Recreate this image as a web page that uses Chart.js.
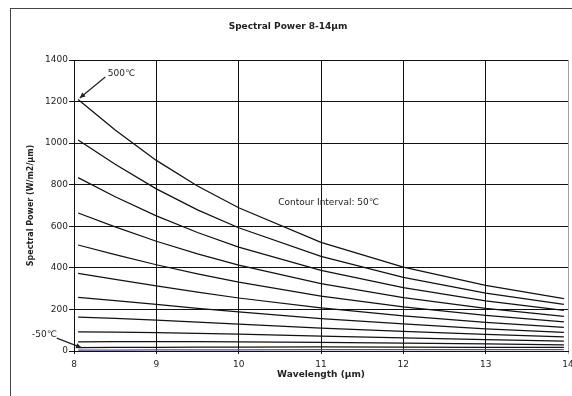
<!DOCTYPE html>
<html>
<head>
<meta charset="utf-8">
<script src="https://cdn.jsdelivr.net/npm/chart.js@4/dist/chart.umd.min.js"></script>
<style>
html,body{margin:0;padding:0;background:#fff;}
#wrap{width:572px;height:396px;position:relative;}
</style>
</head>
<body>
<div id="wrap"><canvas id="c" width="572" height="396"></canvas></div>
<script>
// Wavelength sample points (µm)
const wavelengths = [8.05, 8.5, 9, 9.5, 10, 11, 12, 13, 13.95];
// Spectral power (W/m2/µm) per temperature contour
const t500 = [1210, 1063, 917, 794, 689, 523, 404, 316, 252];
const t450 = [1015, 898, 780, 679, 593, 455, 354, 278, 224];
const t400 = [834, 742, 650, 570, 500, 388, 305, 241, 195];
const t350 = [664, 597, 528, 467, 413, 324, 257, 205, 167];
const t300 = [510, 464, 415, 371, 331, 264, 212, 171, 140];
const t250 = [374, 345, 313, 283, 255, 207, 169, 138, 114];
const t200 = [258, 242, 224, 205, 188, 156, 130, 107, 90];
const t150 = [163, 157, 148, 139, 129, 110, 94, 80, 68];
const t100 = [92, 91, 89, 85, 81, 72, 63, 55, 48];
const t50  = [44, 45, 45, 45, 44, 41, 38, 34, 30];
const t0   = [16, 17, 18, 19, 19, 20, 19, 18, 17];
const tm50 = [4, 4, 5, 5, 6, 7, 7, 7, 7];
const seriesLabels = ['500℃','450℃','400℃','350℃','300℃','250℃','200℃','150℃','100℃','50℃','0℃','-50℃'];
const seriesValues = [t500,t450,t400,t350,t300,t250,t200,t150,t100,t50,t0,tm50];
const xTicks = [8, 9, 10, 11, 12, 13, 14];
const yTicks = [0, 200, 400, 600, 800, 1000, 1200, 1400];

const FONT = "'DejaVu Sans', sans-serif";
const TXT = '#222';

const datasets = seriesValues.map((vals, i) => ({
  label: seriesLabels[i],
  data: vals.map((v, j) => ({x: wavelengths[j], y: v})),
  borderColor: i === seriesValues.length - 1 ? '#5050a8' : '#111',
  borderWidth: 1.25,
  pointRadius: 0,
  tension: 0,
  fill: false
}));

const decor = {
  id: 'decor',
  beforeDraw(chart) {
    const ctx = chart.ctx;
    ctx.save();
    ctx.fillStyle = '#fff';
    ctx.fillRect(0, 0, chart.width, chart.height);
    ctx.strokeStyle = '#444';
    ctx.lineWidth = 1;
    ctx.strokeRect(10.5, 8.5, 700, 700);
    ctx.restore();
  },
  afterDraw(chart) {
    const ctx = chart.ctx;
    const xs = chart.scales.x, ys = chart.scales.y;
    const P = (x, y) => [xs.getPixelForValue(x), ys.getPixelForValue(y)];
    ctx.save();
    ctx.fillStyle = TXT;
    ctx.strokeStyle = '#222';
    ctx.font = '9px ' + FONT;
    ctx.textBaseline = 'middle';
    let [lx, ly] = P(8.41, 1332);
    ctx.textAlign = 'left';
    ctx.fillText('500℃', lx, ly);
    arrow(ctx, P(8.38, 1318), P(8.07, 1217));
    [lx, ly] = P(7.64, 77);
    ctx.textAlign = 'center';
    ctx.fillText('-50℃', lx, ly);
    arrow(ctx, P(7.79, 62), P(8.09, 16));
    [lx, ly] = P(10.48, 712);
    ctx.textAlign = 'left';
    ctx.fillText('Contour Interval: 50℃', lx, ly);
    ctx.restore();
  }
};
function arrow(ctx, a, b) {
  const [x1, y1] = a, [x2, y2] = b;
  ctx.beginPath();
  ctx.lineWidth = 1.2;
  ctx.moveTo(x1, y1);
  ctx.lineTo(x2, y2);
  ctx.stroke();
  const ang = Math.atan2(y2 - y1, x2 - x1);
  const L = 6, W = 0.45;
  ctx.beginPath();
  ctx.moveTo(x2, y2);
  ctx.lineTo(x2 - L * Math.cos(ang - W), y2 - L * Math.sin(ang - W));
  ctx.lineTo(x2 - L * Math.cos(ang + W), y2 - L * Math.sin(ang + W));
  ctx.closePath();
  ctx.fillStyle = '#222';
  ctx.fill();
}

new Chart(document.getElementById('c'), {
  type: 'line',
  data: { datasets },
  plugins: [decor],
  options: {
    responsive: false,
    animation: false,
    devicePixelRatio: 1,
    layout: { padding: { left: 8, right: 4, top: 0, bottom: 0 } },
    plugins: {
      legend: { display: false },
      tooltip: { enabled: false },
      title: {
        display: true,
        text: 'Spectral Power 8-14µm',
        color: TXT,
        font: { family: FONT, size: 9, weight: 'bold' },
        padding: { top: 21.6, bottom: 27.6 }
      }
    },
    scales: {
      x: {
        type: 'linear',
        min: 8, max: 14,
        afterBuildTicks(s) { s.ticks = xTicks.map(v => ({value: v})); },
        afterFit(s) { s.height = 45; s.paddingLeft = 0; s.paddingRight = 0; },
        ticks: { color: TXT, font: { family: FONT, size: 9 }, padding: 5, maxRotation: 0,
                 callback: v => String(v) },
        grid: {
          color: ctx => ctx.tick && ctx.tick.value === 14 ? '#a0a0a0' : '#111',
          lineWidth: 1, tickLength: 3, drawTicks: true
        },
        border: { color: '#111', width: 1 },
        title: {
          display: true,
          text: 'Wavelength (µm)',
          color: TXT,
          font: { family: FONT, size: 9, weight: 'bold' },
          padding: { top: 0, bottom: 15.6 }
        }
      },
      y: {
        type: 'linear',
        min: 0, max: 1400,
        afterBuildTicks(s) { s.ticks = yTicks.map(v => ({value: v})); },
        afterFit(s) { s.width = 66; },
        ticks: { color: TXT, font: { family: FONT, size: 9 }, padding: 1,
                 callback: v => String(v) },
        grid: { color: '#111', lineWidth: 1, tickLength: 5, drawTicks: true },
        border: { color: '#111', width: 1 },
        title: {
          display: true,
          text: 'Spectral Power (W/m2/µm)',
          color: TXT,
          font: { family: FONT, size: 8, weight: 'bold' },
          padding: { top: 18.6, bottom: 0 }
        }
      }
    }
  }
});
</script>
</body>
</html>
